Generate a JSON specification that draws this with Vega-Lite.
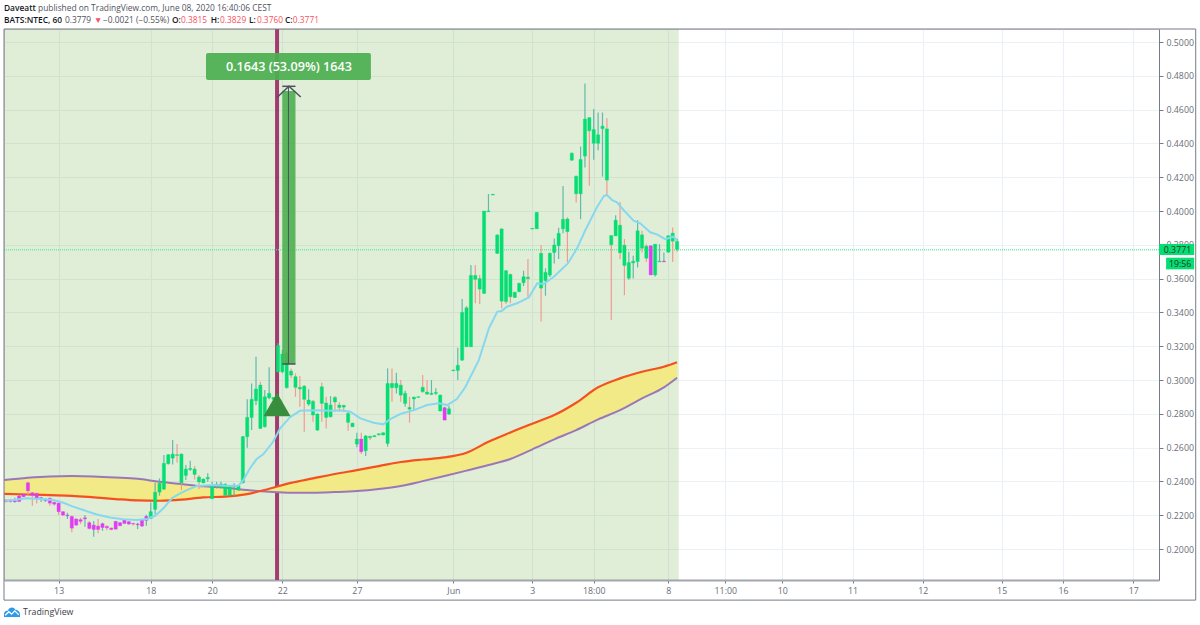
{
  "$schema": "https://vega.github.io/schema/vega-lite/v6.json",
  "width": 1155,
  "height": 551,
  "autosize": "none",
  "padding": {"left": 4, "top": 29, "right": 41, "bottom": 45},
  "background": "white",
  "datasets": {
    "candles": [
      {"bar":0,"top":0.2288,"bot":0.2282,"hi":0.2296,"lo":0.2276,"wick":"down","body":"short"},
      {"bar":1,"top":0.2290,"bot":0.2282,"hi":0.2296,"lo":0.2276,"wick":"down","body":"short"},
      {"bar":2,"top":0.2286,"bot":0.2280,"hi":0.2304,"lo":0.2276,"wick":"up","body":"short"},
      {"bar":3,"top":0.2314,"bot":0.2282,"hi":0.2318,"lo":0.2280,"wick":"up","body":"short"},
      {"bar":4,"top":0.2325,"bot":0.2310,"hi":0.2327,"lo":0.2308,"wick":"up","body":"short"},
      {"bar":5,"top":0.2392,"bot":0.2345,"hi":0.2398,"lo":0.2314,"wick":"down","body":"short"},
      {"bar":6,"top":0.2333,"bot":0.2318,"hi":0.2337,"lo":0.2256,"wick":"down","body":"short"},
      {"bar":7,"top":0.2329,"bot":0.2298,"hi":0.2333,"lo":0.2270,"wick":"down","body":"short"},
      {"bar":8,"top":0.2304,"bot":0.2298,"hi":0.2310,"lo":0.2278,"wick":"up","body":"short"},
      {"bar":9,"top":0.2294,"bot":0.2286,"hi":0.2300,"lo":0.2280,"wick":"up","body":"short"},
      {"bar":10,"top":0.2300,"bot":0.2272,"hi":0.2306,"lo":0.2256,"wick":"down","body":"short"},
      {"bar":11,"top":0.2276,"bot":0.2266,"hi":0.2282,"lo":0.2256,"wick":"down","body":"short"},
      {"bar":12,"top":0.2272,"bot":0.2221,"hi":0.2276,"lo":0.2201,"wick":"down","body":"short"},
      {"bar":13,"top":0.2221,"bot":0.2201,"hi":0.2225,"lo":0.2197,"wick":"down","body":"short"},
      {"bar":14,"top":0.2201,"bot":0.2197,"hi":0.2215,"lo":0.2178,"wick":"up","body":"short"},
      {"bar":15,"top":0.2193,"bot":0.2124,"hi":0.2197,"lo":0.2100,"wick":"down","body":"short"},
      {"bar":16,"top":0.2178,"bot":0.2142,"hi":0.2181,"lo":0.2138,"wick":"up","body":"short"},
      {"bar":17,"top":0.2174,"bot":0.2164,"hi":0.2185,"lo":0.2148,"wick":"down","body":"short"},
      {"bar":18,"top":0.2185,"bot":0.2179,"hi":0.2201,"lo":0.2132,"wick":"up","body":"short"},
      {"bar":19,"top":0.2156,"bot":0.2122,"hi":0.2166,"lo":0.2116,"wick":"down","body":"short"},
      {"bar":20,"top":0.2142,"bot":0.2116,"hi":0.2166,"lo":0.2073,"wick":"up","body":"short"},
      {"bar":21,"top":0.2136,"bot":0.2116,"hi":0.2178,"lo":0.2093,"wick":"down","body":"short"},
      {"bar":22,"top":0.2150,"bot":0.2128,"hi":0.2156,"lo":0.2108,"wick":"up","body":"short"},
      {"bar":23,"top":0.2134,"bot":0.2126,"hi":0.2140,"lo":0.2112,"wick":"down","body":"short"},
      {"bar":24,"top":0.2124,"bot":0.2116,"hi":0.2128,"lo":0.2112,"wick":"down","body":"short"},
      {"bar":25,"top":0.2164,"bot":0.2118,"hi":0.2166,"lo":0.2116,"wick":"up","body":"short"},
      {"bar":26,"top":0.2156,"bot":0.2138,"hi":0.2158,"lo":0.2136,"wick":"up","body":"short"},
      {"bar":27,"top":0.2172,"bot":0.2152,"hi":0.2174,"lo":0.2150,"wick":"up","body":"short"},
      {"bar":28,"top":0.2162,"bot":0.2148,"hi":0.2164,"lo":0.2146,"wick":"up","body":"short"},
      {"bar":29,"top":0.2152,"bot":0.2148,"hi":0.2156,"lo":0.2140,"wick":"down","body":"short"},
      {"bar":30,"top":0.2148,"bot":0.2144,"hi":0.2156,"lo":0.2118,"wick":"up","body":"short"},
      {"bar":31,"top":0.2174,"bot":0.2136,"hi":0.2178,"lo":0.2132,"wick":"up","body":"short"},
      {"bar":32,"top":0.2193,"bot":0.2170,"hi":0.2203,"lo":0.2138,"wick":"up","body":"short"},
      {"bar":33,"top":0.2221,"bot":0.2181,"hi":0.2276,"lo":0.2178,"wick":"up","body":"long"},
      {"bar":34,"top":0.2336,"bot":0.2235,"hi":0.2392,"lo":0.2205,"wick":"up","body":"long"},
      {"bar":35,"top":0.2389,"bot":0.2337,"hi":0.2418,"lo":0.2316,"wick":"up","body":"long"},
      {"bar":36,"top":0.2507,"bot":0.2355,"hi":0.2556,"lo":0.2349,"wick":"up","body":"long"},
      {"bar":37,"top":0.2558,"bot":0.2505,"hi":0.2562,"lo":0.2501,"wick":"up","body":"long"},
      {"bar":38,"top":0.2562,"bot":0.2538,"hi":0.2645,"lo":0.2501,"wick":"up","body":"long"},
      {"bar":39,"top":0.2558,"bot":0.2554,"hi":0.2621,"lo":0.2511,"wick":"down","body":"long"},
      {"bar":40,"top":0.2562,"bot":0.2392,"hi":0.2566,"lo":0.2349,"wick":"down","body":"long"},
      {"bar":41,"top":0.2473,"bot":0.2436,"hi":0.2497,"lo":0.2408,"wick":"up","body":"long"},
      {"bar":42,"top":0.2477,"bot":0.2471,"hi":0.2523,"lo":0.2463,"wick":"up","body":"long"},
      {"bar":43,"top":0.2473,"bot":0.2442,"hi":0.2491,"lo":0.2412,"wick":"down","body":"long"},
      {"bar":44,"top":0.2426,"bot":0.2397,"hi":0.2438,"lo":0.2355,"wick":"down","body":"long"},
      {"bar":45,"top":0.2414,"bot":0.2392,"hi":0.2418,"lo":0.2389,"wick":"up","body":"long"},
      {"bar":46,"top":0.2424,"bot":0.2416,"hi":0.2448,"lo":0.2398,"wick":"up","body":"long"},
      {"bar":47,"top":0.2375,"bot":0.2298,"hi":0.2398,"lo":0.2296,"wick":"up","body":"long"},
      {"bar":48,"top":0.2383,"bot":0.2377,"hi":0.2398,"lo":0.2359,"wick":"up","body":"long"},
      {"bar":49,"top":0.2385,"bot":0.2365,"hi":0.2398,"lo":0.2359,"wick":"up","body":"long"},
      {"bar":50,"top":0.2383,"bot":0.2319,"hi":0.2389,"lo":0.2316,"wick":"up","body":"long"},
      {"bar":51,"top":0.2371,"bot":0.2319,"hi":0.2375,"lo":0.2316,"wick":"up","body":"long"},
      {"bar":52,"top":0.2375,"bot":0.2369,"hi":0.2389,"lo":0.2314,"wick":"up","body":"long"},
      {"bar":53,"top":0.2375,"bot":0.2349,"hi":0.2379,"lo":0.2345,"wick":"up","body":"long"},
      {"bar":54,"top":0.2665,"bot":0.2392,"hi":0.2669,"lo":0.2389,"wick":"up","body":"long"},
      {"bar":55,"top":0.2779,"bot":0.2665,"hi":0.2886,"lo":0.2600,"wick":"up","body":"long"},
      {"bar":56,"top":0.2886,"bot":0.2779,"hi":0.2980,"lo":0.2704,"wick":"up","body":"long"},
      {"bar":57,"top":0.2947,"bot":0.2878,"hi":0.3138,"lo":0.2852,"wick":"up","body":"long"},
      {"bar":58,"top":0.2970,"bot":0.2714,"hi":0.2990,"lo":0.2710,"wick":"down","body":"long"},
      {"bar":59,"top":0.2901,"bot":0.2724,"hi":0.2941,"lo":0.2720,"wick":"up","body":"long"},
      {"bar":60,"top":0.2921,"bot":0.2895,"hi":0.3075,"lo":0.2886,"wick":"up","body":"long"},
      {"bar":61,"top":0.2897,"bot":0.2886,"hi":0.2900,"lo":0.2880,"wick":"down","body":"long"},
      {"bar":62,"top":0.3203,"bot":0.3049,"hi":0.3217,"lo":0.3045,"wick":"up","body":"long"},
      {"bar":63,"top":0.3154,"bot":0.3049,"hi":0.3180,"lo":0.3040,"wick":"up","body":"long"},
      {"bar":64,"top":0.3158,"bot":0.2955,"hi":0.3165,"lo":0.2950,"wick":"up","body":"long"},
      {"bar":65,"top":0.3053,"bot":0.3029,"hi":0.3069,"lo":0.3010,"wick":"down","body":"long"},
      {"bar":66,"top":0.3020,"bot":0.2957,"hi":0.3039,"lo":0.2901,"wick":"down","body":"long"},
      {"bar":67,"top":0.2957,"bot":0.2947,"hi":0.3024,"lo":0.2842,"wick":"down","body":"long"},
      {"bar":68,"top":0.2964,"bot":0.2886,"hi":0.2970,"lo":0.2694,"wick":"down","body":"long"},
      {"bar":69,"top":0.2882,"bot":0.2858,"hi":0.2945,"lo":0.2848,"wick":"up","body":"long"},
      {"bar":70,"top":0.2874,"bot":0.2793,"hi":0.2882,"lo":0.2754,"wick":"down","body":"long"},
      {"bar":71,"top":0.2799,"bot":0.2704,"hi":0.2803,"lo":0.2700,"wick":"up","body":"long"},
      {"bar":72,"top":0.2960,"bot":0.2862,"hi":0.2986,"lo":0.2754,"wick":"down","body":"long"},
      {"bar":73,"top":0.2864,"bot":0.2779,"hi":0.2901,"lo":0.2714,"wick":"down","body":"long"},
      {"bar":74,"top":0.2852,"bot":0.2783,"hi":0.2905,"lo":0.2779,"wick":"up","body":"long"},
      {"bar":75,"top":0.2897,"bot":0.2870,"hi":0.2905,"lo":0.2813,"wick":"down","body":"long"},
      {"bar":76,"top":0.2852,"bot":0.2838,"hi":0.2868,"lo":0.2813,"wick":"down","body":"long"},
      {"bar":77,"top":0.2850,"bot":0.2840,"hi":0.2854,"lo":0.2811,"wick":"down","body":"long"},
      {"bar":78,"top":0.2803,"bot":0.2750,"hi":0.2813,"lo":0.2700,"wick":"down","body":"long"},
      {"bar":79,"top":0.2745,"bot":0.2724,"hi":0.2747,"lo":0.2722,"wick":"up","body":"long"},
      {"bar":80,"top":0.2651,"bot":0.2621,"hi":0.2688,"lo":0.2602,"wick":"up","body":"long"},
      {"bar":81,"top":0.2651,"bot":0.2576,"hi":0.2688,"lo":0.2562,"wick":"down","body":"short"},
      {"bar":82,"top":0.2669,"bot":0.2582,"hi":0.2675,"lo":0.2550,"wick":"up","body":"long"},
      {"bar":83,"top":0.2667,"bot":0.2659,"hi":0.2671,"lo":0.2645,"wick":"down","body":"long"},
      {"bar":84,"top":0.2671,"bot":0.2665,"hi":0.2673,"lo":0.2663,"wick":"up","body":"long"},
      {"bar":85,"top":0.2682,"bot":0.2676,"hi":0.2684,"lo":0.2674,"wick":"up","body":"long"},
      {"bar":86,"top":0.2688,"bot":0.2675,"hi":0.2690,"lo":0.2673,"wick":"up","body":"long"},
      {"bar":87,"top":0.2980,"bot":0.2625,"hi":0.3069,"lo":0.2606,"wick":"up","body":"long"},
      {"bar":88,"top":0.2980,"bot":0.2955,"hi":0.3069,"lo":0.2872,"wick":"down","body":"long"},
      {"bar":89,"top":0.2980,"bot":0.2955,"hi":0.3043,"lo":0.2921,"wick":"up","body":"long"},
      {"bar":90,"top":0.2970,"bot":0.2911,"hi":0.3000,"lo":0.2872,"wick":"down","body":"long"},
      {"bar":91,"top":0.2921,"bot":0.2862,"hi":0.2937,"lo":0.2842,"wick":"up","body":"long"},
      {"bar":92,"top":0.2838,"bot":0.2828,"hi":0.2901,"lo":0.2748,"wick":"down","body":"long"},
      {"bar":93,"top":0.2899,"bot":0.2888,"hi":0.2901,"lo":0.2823,"wick":"up","body":"long"},
      {"bar":94,"top":0.2901,"bot":0.2898,"hi":0.2903,"lo":0.2896,"wick":"up","body":"long"},
      {"bar":95,"top":0.2957,"bot":0.2931,"hi":0.3030,"lo":0.2925,"wick":"down","body":"long"},
      {"bar":96,"top":0.2929,"bot":0.2917,"hi":0.3000,"lo":0.2911,"wick":"down","body":"long"},
      {"bar":97,"top":0.2921,"bot":0.2915,"hi":0.3000,"lo":0.2911,"wick":"up","body":"long"},
      {"bar":98,"top":0.2927,"bot":0.2921,"hi":0.2951,"lo":0.2911,"wick":"up","body":"long"},
      {"bar":99,"top":0.2911,"bot":0.2817,"hi":0.2913,"lo":0.2815,"wick":"up","body":"long"},
      {"bar":100,"top":0.2836,"bot":0.2763,"hi":0.2842,"lo":0.2763,"wick":"up","body":"short"},
      {"bar":101,"top":0.2830,"bot":0.2799,"hi":0.2848,"lo":0.2793,"wick":"up","body":"long"},
      {"bar":102,"top":0.3059,"bot":0.3055,"hi":0.3061,"lo":0.3053,"wick":"up","body":"long"},
      {"bar":103,"top":0.3087,"bot":0.3057,"hi":0.3191,"lo":0.3000,"wick":"up","body":"long"},
      {"bar":104,"top":0.3400,"bot":0.3118,"hi":0.3479,"lo":0.3112,"wick":"up","body":"long"},
      {"bar":105,"top":0.3428,"bot":0.3197,"hi":0.3440,"lo":0.3197,"wick":"down","body":"long"},
      {"bar":106,"top":0.3619,"bot":0.3197,"hi":0.3680,"lo":0.3197,"wick":"up","body":"long"},
      {"bar":107,"top":0.3619,"bot":0.3596,"hi":0.3680,"lo":0.3454,"wick":"down","body":"long"},
      {"bar":108,"top":0.3600,"bot":0.3538,"hi":0.3621,"lo":0.3450,"wick":"down","body":"long"},
      {"bar":109,"top":0.4000,"bot":0.3513,"hi":0.4000,"lo":0.3509,"wick":"up","body":"long"},
      {"bar":110,"top":0.4000,"bot":0.3996,"hi":0.4101,"lo":0.3996,"wick":"up","body":"long"},
      {"bar":111,"top":0.4099,"bot":0.4095,"hi":0.4101,"lo":0.4093,"wick":"up","body":"long"},
      {"bar":112,"top":0.3858,"bot":0.3750,"hi":0.3862,"lo":0.3746,"wick":"up","body":"long"},
      {"bar":113,"top":0.3894,"bot":0.3467,"hi":0.3898,"lo":0.3424,"wick":"down","body":"long"},
      {"bar":114,"top":0.3647,"bot":0.3464,"hi":0.3651,"lo":0.3450,"wick":"down","body":"long"},
      {"bar":115,"top":0.3625,"bot":0.3493,"hi":0.3629,"lo":0.3454,"wick":"down","body":"long"},
      {"bar":116,"top":0.3519,"bot":0.3489,"hi":0.3523,"lo":0.3485,"wick":"up","body":"long"},
      {"bar":117,"top":0.3572,"bot":0.3523,"hi":0.3576,"lo":0.3519,"wick":"up","body":"long"},
      {"bar":118,"top":0.3611,"bot":0.3576,"hi":0.3647,"lo":0.3556,"wick":"up","body":"long"},
      {"bar":119,"top":0.3609,"bot":0.3600,"hi":0.3716,"lo":0.3493,"wick":"down","body":"long"},
      {"bar":120,"top":0.3897,"bot":0.3894,"hi":0.3899,"lo":0.3892,"wick":"up","body":"long"},
      {"bar":121,"top":0.3992,"bot":0.3895,"hi":0.3994,"lo":0.3893,"wick":"up","body":"long"},
      {"bar":122,"top":0.3750,"bot":0.3544,"hi":0.3799,"lo":0.3347,"wick":"down","body":"long"},
      {"bar":123,"top":0.3637,"bot":0.3588,"hi":0.3661,"lo":0.3499,"wick":"up","body":"long"},
      {"bar":124,"top":0.3750,"bot":0.3621,"hi":0.3754,"lo":0.3610,"wick":"up","body":"long"},
      {"bar":125,"top":0.3799,"bot":0.3755,"hi":0.3838,"lo":0.3690,"wick":"up","body":"long"},
      {"bar":126,"top":0.3868,"bot":0.3795,"hi":0.3901,"lo":0.3716,"wick":"up","body":"long"},
      {"bar":127,"top":0.3951,"bot":0.3895,"hi":0.4148,"lo":0.3868,"wick":"up","body":"long"},
      {"bar":128,"top":0.3953,"bot":0.3878,"hi":0.3963,"lo":0.3696,"wick":"down","body":"long"},
      {"bar":129,"top":0.4342,"bot":0.4301,"hi":0.4346,"lo":0.4297,"wick":"up","body":"long"},
      {"bar":130,"top":0.4206,"bot":0.4102,"hi":0.4210,"lo":0.4050,"wick":"down","body":"long"},
      {"bar":131,"top":0.4305,"bot":0.4102,"hi":0.4382,"lo":0.3952,"wick":"up","body":"long"},
      {"bar":132,"top":0.4544,"bot":0.4325,"hi":0.4755,"lo":0.4258,"wick":"up","body":"long"},
      {"bar":133,"top":0.4553,"bot":0.4475,"hi":0.4553,"lo":0.4149,"wick":"down","body":"long"},
      {"bar":134,"top":0.4482,"bot":0.4401,"hi":0.4603,"lo":0.4303,"wick":"up","body":"long"},
      {"bar":135,"top":0.4451,"bot":0.4401,"hi":0.4583,"lo":0.4360,"wick":"up","body":"long"},
      {"bar":136,"top":0.4502,"bot":0.4488,"hi":0.4583,"lo":0.4204,"wick":"up","body":"long"},
      {"bar":137,"top":0.4486,"bot":0.4183,"hi":0.4549,"lo":0.4100,"wick":"down","body":"long"},
      {"bar":138,"top":0.3855,"bot":0.3800,"hi":0.3855,"lo":0.3356,"wick":"down","body":"long"},
      {"bar":139,"top":0.3946,"bot":0.3853,"hi":0.3975,"lo":0.3853,"wick":"up","body":"long"},
      {"bar":140,"top":0.3916,"bot":0.3753,"hi":0.4054,"lo":0.3715,"wick":"down","body":"long"},
      {"bar":141,"top":0.3798,"bot":0.3678,"hi":0.3834,"lo":0.3502,"wick":"down","body":"long"},
      {"bar":142,"top":0.3695,"bot":0.3603,"hi":0.3759,"lo":0.3593,"wick":"up","body":"long"},
      {"bar":143,"top":0.3703,"bot":0.3693,"hi":0.3735,"lo":0.3601,"wick":"up","body":"long"},
      {"bar":144,"top":0.3883,"bot":0.3701,"hi":0.3946,"lo":0.3666,"wick":"up","body":"long"},
      {"bar":145,"top":0.3859,"bot":0.3780,"hi":0.3883,"lo":0.3755,"wick":"down","body":"long"},
      {"bar":146,"top":0.3792,"bot":0.3721,"hi":0.3804,"lo":0.3699,"wick":"down","body":"long"},
      {"bar":147,"top":0.3794,"bot":0.3622,"hi":0.3796,"lo":0.3622,"wick":"up","body":"short"},
      {"bar":148,"top":0.3804,"bot":0.3622,"hi":0.3804,"lo":0.3612,"wick":"up","body":"long"},
      {"bar":149,"top":0.3703,"bot":0.3699,"hi":0.3804,"lo":0.3699,"wick":"up","body":"long"},
      {"bar":150,"top":0.3703,"bot":0.3699,"hi":0.3755,"lo":0.3699,"wick":"up","body":"short"},
      {"bar":151,"top":0.3853,"bot":0.3757,"hi":0.3857,"lo":0.3753,"wick":"up","body":"long"},
      {"bar":152,"top":0.3869,"bot":0.3822,"hi":0.3902,"lo":0.3699,"wick":"down","body":"long"},
      {"bar":153,"top":0.3820,"bot":0.3774,"hi":0.3838,"lo":0.3760,"wick":"up","body":"long"}
    ],
    "ema": [
      {"bar":-0.2,"price":0.2286},{"bar":1.7,"price":0.2290},{"bar":4.7,"price":0.2300},{"bar":7.8,"price":0.2296},
      {"bar":10.8,"price":0.2290},{"bar":13.1,"price":0.2274},{"bar":15,"price":0.2254},{"bar":17.6,"price":0.2231},
      {"bar":20.7,"price":0.2205},{"bar":23.7,"price":0.2187},{"bar":26.7,"price":0.2176},{"bar":29.8,"price":0.2172},
      {"bar":32.1,"price":0.2178},{"bar":34,"price":0.2197},{"bar":35.9,"price":0.2241},{"bar":37.8,"price":0.2300},
      {"bar":39.3,"price":0.2323},{"bar":41.2,"price":0.2349},{"bar":43.5,"price":0.2373},{"bar":47.3,"price":0.2379},
      {"bar":50.3,"price":0.2375},{"bar":53,"price":0.2375},{"bar":54.1,"price":0.2408},{"bar":55.6,"price":0.2477},
      {"bar":57.1,"price":0.2531},{"bar":58.7,"price":0.2562},{"bar":60.9,"price":0.2635},{"bar":62.5,"price":0.2714},
      {"bar":64.7,"price":0.2779},{"bar":67,"price":0.2818},{"bar":70.1,"price":0.2822},{"bar":74.6,"price":0.2818},
      {"bar":76.2,"price":0.2822},{"bar":78.5,"price":0.2813},{"bar":80.8,"price":0.2773},{"bar":83.8,"price":0.2747},
      {"bar":86,"price":0.2738},{"bar":87.6,"price":0.2769},{"bar":89.9,"price":0.2799},{"bar":93,"price":0.2822},
      {"bar":96,"price":0.2852},{"bar":98.7,"price":0.2862},{"bar":100.6,"price":0.2852},{"bar":102.8,"price":0.2888},
      {"bar":104.7,"price":0.2957},{"bar":107.8,"price":0.3118},{"bar":110.1,"price":0.3306},{"bar":112,"price":0.3404},
      {"bar":113.1,"price":0.3410},{"bar":114.2,"price":0.3434},{"bar":116.5,"price":0.3454},{"bar":119.2,"price":0.3489},
      {"bar":121.1,"price":0.3572},{"bar":122.6,"price":0.3568},{"bar":124.9,"price":0.3611},{"bar":128.1,"price":0.3690},
      {"bar":130.2,"price":0.3779},{"bar":132.1,"price":0.3888},{"bar":134.8,"price":0.4026},{"bar":136.3,"price":0.4089},
      {"bar":137,"price":0.4095},{"bar":138.2,"price":0.4065},{"bar":139.3,"price":0.4051},{"bar":140.8,"price":0.4006},
      {"bar":143.1,"price":0.3943},{"bar":144.6,"price":0.3927},{"bar":146.9,"price":0.3874},{"bar":148.4,"price":0.3862},
      {"bar":150.3,"price":0.3834},{"bar":152.2,"price":0.3848},{"bar":153,"price":0.3824}
    ],
    "ribbon": [
      {"bar":-0.4,"slow":0.2408,"fast":0.2327},{"bar":5,"slow":0.2422,"fast":0.2323},{"bar":10,"slow":0.2430,"fast":0.2319},
      {"bar":15,"slow":0.2432,"fast":0.2315},{"bar":20,"slow":0.2430,"fast":0.2306},{"bar":25,"slow":0.2424,"fast":0.2296},
      {"bar":30,"slow":0.2416,"fast":0.2288},{"bar":35,"slow":0.2398,"fast":0.2286},{"bar":40,"slow":0.2385,"fast":0.2292},
      {"bar":45,"slow":0.2371,"fast":0.2306},{"bar":50,"slow":0.2363,"fast":0.2310},{"bar":55,"slow":0.2349,"fast":0.2325},
      {"bar":60,"slow":0.2339,"fast":0.2357},{"bar":65,"slow":0.2333,"fast":0.2392},{"bar":70,"slow":0.2333,"fast":0.2418},
      {"bar":75,"slow":0.2337,"fast":0.2444},{"bar":80,"slow":0.2343,"fast":0.2467},{"bar":85,"slow":0.2355,"fast":0.2491},
      {"bar":90,"slow":0.2373,"fast":0.2515},{"bar":95,"slow":0.2402,"fast":0.2530},{"bar":100,"slow":0.2432,"fast":0.2542},
      {"bar":105,"slow":0.2464,"fast":0.2570},{"bar":110,"slow":0.2497,"fast":0.2635},{"bar":115,"slow":0.2533,"fast":0.2690},
      {"bar":120,"slow":0.2590,"fast":0.2742},{"bar":125,"slow":0.2649,"fast":0.2793},{"bar":130,"slow":0.2704,"fast":0.2866},
      {"bar":135,"slow":0.2767,"fast":0.2957},{"bar":140,"slow":0.2822,"fast":0.3010},{"bar":145,"slow":0.2891,"fast":0.3049},
      {"bar":150,"slow":0.2957,"fast":0.3079},{"bar":153,"slow":0.3014,"fast":0.3105}
    ],
    "arrowHead": [
      {"bar":61.8,"price":0.4672},{"bar":64.5,"price":0.4738},{"bar":67.2,"price":0.4675}
    ],
    "headerBold": [
      {"bar":-0.46,"price":0.5201,"text":"Daveatt"},
      {"bar":-0.46,"price":0.5130,"text":"BATS:NTEC, 60"},
      {"bar":37.85,"price":0.5130,"text":"O:"},
      {"bar":46.7,"price":0.5130,"text":"H:"},
      {"bar":55.4,"price":0.5130,"text":"L:"},
      {"bar":63.6,"price":0.5130,"text":"C:"}
    ],
    "headerPlain": [
      {"bar":7.3,"price":0.5201,"text":"published on TradingView.com, June 08, 2020 16:40:06 CEST","tone":"ink"},
      {"bar":13.45,"price":0.5130,"text":"0.3779","tone":"ink"},
      {"bar":20.06,"price":0.5130,"text":"▼","tone":"loss"},
      {"bar":22.1,"price":0.5130,"text":"−0.0021 (−0.55%)","tone":"ink"},
      {"bar":39.9,"price":0.5130,"text":"0.3815","tone":"loss"},
      {"bar":48.8,"price":0.5130,"text":"0.3829","tone":"loss"},
      {"bar":57.2,"price":0.5130,"text":"0.3760","tone":"loss"},
      {"bar":65.4,"price":0.5130,"text":"0.3771","tone":"loss"}
    ]
  },
  "layer": [
    {
      "data": {"values": [{"from": -0.456, "to": 153.4}]},
      "mark": {"type": "rect", "fill": "#62a83c", "opacity": 0.2},
      "encoding": {
        "x": {
          "field": "from", "type": "quantitative",
          "scale": {"domain": [-0.456, 262.88], "nice": false, "zero": false, "padding": 0},
          "axis": {
            "orient": "bottom", "title": null,
            "values": [12, 33, 47, 63, 80, 102, 120, 134, 151, 164, 177, 193, 209, 227, 241, 257],
            "labelExpr": "{'12':'13','33':'18','47':'20','63':'22','80':'27','102':'Jun','120':'3','134':'18:00','151':'8','164':'11:00','177':'10','193':'11','209':'12','227':'15','241':'16','257':'17'}[datum.value]",
            "labelColor": "#6a6d78", "labelFont": "Open Sans", "labelFontSize": 8.8, "labelPadding": 3, "labelFlush": false, "labelOverlap": false,
            "tickColor": "#787b86", "tickSize": 3,
            "domainColor": "#a3a6af", "domainWidth": 2,
            "grid": true, "gridColor": "#edf1f7", "gridWidth": 1.2
          }
        },
        "x2": {"field": "to"}
      }
    },
    {
      "data": {"values": [{"bar": 61.8}]},
      "mark": {"type": "rule", "color": "#a03c70", "strokeWidth": 4},
      "encoding": {"x": {"field": "bar", "type": "quantitative"}}
    },
    {
      "data": {"name": "ribbon"},
      "mark": {"type": "area", "fill": "#f2ea86", "interpolate": "monotone"},
      "encoding": {
        "x": {"field": "bar", "type": "quantitative"},
        "y": {
          "field": "slow", "type": "quantitative",
          "scale": {"domain": [0.1817, 0.5077], "nice": false, "zero": false},
          "axis": {
            "orient": "right", "title": null,
            "values": [0.20, 0.22, 0.24, 0.26, 0.28, 0.30, 0.32, 0.34, 0.36, 0.38, 0.40, 0.42, 0.44, 0.46, 0.48, 0.50],
            "tickCount": 20,
            "format": ".4f", "labelOverlap": false,
            "labelColor": "#6a6d78", "labelFont": "Open Sans", "labelFontSize": 8.8, "labelPadding": 3,
            "tickColor": "#787b86", "tickSize": 4,
            "domainColor": "#787b86", "domainWidth": 1,
            "grid": true, "gridColor": "#edf1f7", "gridWidth": 1.2
          }
        },
        "y2": {"field": "fast"}
      }
    },
    {
      "data": {"name": "ribbon"},
      "mark": {"type": "line", "color": "#9a78b8", "strokeWidth": 2, "interpolate": "monotone"},
      "encoding": {"x": {"field": "bar", "type": "quantitative"}, "y": {"field": "slow", "type": "quantitative"}}
    },
    {
      "data": {"name": "ribbon"},
      "mark": {"type": "line", "color": "#f4511e", "strokeWidth": 2.2, "interpolate": "monotone"},
      "encoding": {"x": {"field": "bar", "type": "quantitative"}, "y": {"field": "fast", "type": "quantitative"}}
    },
    {
      "data": {"values": [{"price": 0.3771}]},
      "mark": {"type": "rule", "color": "#4ee89a", "strokeWidth": 1.4, "strokeDash": [1, 1], "opacity": 0.8},
      "encoding": {"y": {"field": "price", "type": "quantitative"}}
    },
    {
      "data": {"name": "candles"},
      "mark": {"type": "rule", "strokeWidth": 1.2, "opacity": 0.9},
      "encoding": {
        "x": {"field": "bar", "type": "quantitative"},
        "y": {"field": "hi", "type": "quantitative"},
        "y2": {"field": "lo"},
        "color": {
          "field": "wick", "type": "nominal", "legend": null,
          "scale": {
            "domain": ["up", "down", "long", "short", "ink", "loss"],
            "range": ["#55b3a6", "#ef9488", "#05de72", "#e03cf2", "#50535e", "#f7525f"]
          }
        }
      }
    },
    {
      "data": {"name": "candles"},
      "mark": {"type": "bar", "width": 3.2, "strokeWidth": 0.4},
      "encoding": {
        "x": {"field": "bar", "type": "quantitative"},
        "y": {"field": "top", "type": "quantitative"},
        "y2": {"field": "bot"},
        "color": {"field": "body", "type": "nominal", "legend": null},
        "stroke": {"field": "body", "type": "nominal", "legend": null, "scale": {"domain": ["long", "short"], "range": ["#05de72", "#e03cf2"]}}
      }
    },
    {
      "data": {"name": "ema"},
      "mark": {"type": "line", "color": "#87d8ee", "strokeWidth": 2},
      "encoding": {"x": {"field": "bar", "type": "quantitative"}, "y": {"field": "price", "type": "quantitative"}}
    },
    {
      "data": {"values": [{"bar": 61.8, "price": 0.2855}]},
      "mark": {"type": "point", "shape": "triangle-up", "filled": true, "size": 729, "color": "#388e3c", "opacity": 1},
      "encoding": {"x": {"field": "bar", "type": "quantitative"}, "y": {"field": "price", "type": "quantitative"}}
    },
    {
      "data": {"values": [{"from": 63, "to": 66, "low": 0.3095, "high": 0.4710}]},
      "mark": {"type": "rect", "fill": "#4caf50", "opacity": 0.9},
      "encoding": {
        "x": {"field": "from", "type": "quantitative"}, "x2": {"field": "to"},
        "y": {"field": "low", "type": "quantitative"}, "y2": {"field": "high"}
      }
    },
    {
      "data": {"values": [{"bar": 64.4, "low": 0.3095, "high": 0.4738}]},
      "mark": {"type": "rule", "color": "#4c525e", "strokeWidth": 1},
      "encoding": {
        "x": {"field": "bar", "type": "quantitative"},
        "y": {"field": "low", "type": "quantitative"}, "y2": {"field": "high"}
      }
    },
    {
      "data": {"values": [{"from": 63, "to": 66, "price": 0.3095}, {"from": 63, "to": 66, "price": 0.4738}]},
      "mark": {"type": "rule", "color": "#4c525e", "strokeWidth": 1.5},
      "encoding": {
        "x": {"field": "from", "type": "quantitative"}, "x2": {"field": "to"},
        "y": {"field": "price", "type": "quantitative"}
      }
    },
    {
      "data": {"name": "arrowHead"},
      "mark": {"type": "line", "color": "#4c525e", "strokeWidth": 1.5},
      "encoding": {"x": {"field": "bar", "type": "quantitative"}, "y": {"field": "price", "type": "quantitative"}}
    },
    {
      "data": {"values": [{"from": 45.6, "to": 83.2, "low": 0.4775, "high": 0.4935}]},
      "mark": {"type": "rect", "fill": "#4caf50", "opacity": 0.93, "cornerRadius": 2},
      "encoding": {
        "x": {"field": "from", "type": "quantitative"}, "x2": {"field": "to"},
        "y": {"field": "low", "type": "quantitative"}, "y2": {"field": "high"}
      }
    },
    {
      "data": {"values": [{"bar": 64.5, "price": 0.4855, "text": "0.1643 (53.09%) 1643"}]},
      "mark": {"type": "text", "color": "white", "font": "Open Sans", "fontSize": 12.6, "fontWeight": 600, "align": "center", "baseline": "middle"},
      "encoding": {
        "x": {"field": "bar", "type": "quantitative"}, "y": {"field": "price", "type": "quantitative"},
        "text": {"field": "text"}
      }
    },
    {
      "data": {"values": [{"from": -0.456, "to": 271.25, "low": 0.1698, "high": 0.5077}]},
      "mark": {"type": "rect", "fillOpacity": 0, "stroke": "#787b86", "strokeWidth": 1, "clip": false},
      "encoding": {
        "x": {"field": "from", "type": "quantitative"}, "x2": {"field": "to"},
        "y": {"field": "low", "type": "quantitative"}, "y2": {"field": "high"}
      }
    },
    {
      "data": {"values": [{"from": 262.9, "to": 270.9, "low": 0.3740, "high": 0.3805}, {"from": 264.5, "to": 270.9, "low": 0.3655, "high": 0.3724}]},
      "mark": {"type": "rect", "fill": "#05de72", "clip": false},
      "encoding": {
        "x": {"field": "from", "type": "quantitative"}, "x2": {"field": "to"},
        "y": {"field": "low", "type": "quantitative"}, "y2": {"field": "high"}
      }
    },
    {
      "data": {"values": [{"bar": 267.1, "price": 0.3771, "text": "0.3771"}, {"bar": 267.7, "price": 0.3689, "text": "19:56"}]},
      "mark": {"type": "text", "color": "#24362c", "font": "Open Sans", "fontSize": 8.8, "align": "center", "baseline": "middle", "clip": false},
      "encoding": {
        "x": {"field": "bar", "type": "quantitative"}, "y": {"field": "price", "type": "quantitative"},
        "text": {"field": "text"}
      }
    },
    {
      "data": {"name": "headerBold"},
      "mark": {"type": "text", "color": "#131722", "font": "Open Sans", "fontSize": 8.4, "fontWeight": 600, "align": "left", "baseline": "middle", "clip": false},
      "encoding": {
        "x": {"field": "bar", "type": "quantitative"}, "y": {"field": "price", "type": "quantitative"},
        "text": {"field": "text"}
      }
    },
    {
      "data": {"name": "headerPlain"},
      "mark": {"type": "text", "font": "Open Sans", "fontSize": 8.4, "align": "left", "baseline": "middle", "clip": false},
      "encoding": {
        "x": {"field": "bar", "type": "quantitative"}, "y": {"field": "price", "type": "quantitative"},
        "text": {"field": "text"},
        "color": {"field": "tone", "type": "nominal", "legend": null}
      }
    },
    {
      "data": {"values": [{"bar": 1.37, "price": 0.1627}]},
      "mark": {"type": "point", "filled": true, "size": 256, "opacity": 1, "color": "#2e9bea", "clip": false,
        "shape": "M-1,.6 L-1,.2 C-1,-.1 -.7,-.2 -.5,-.2 C-.4,-.7 .3,-.7 .4,-.3 C.8,-.3 1,0 1,.3 L1,.6 Z"},
      "encoding": {"x": {"field": "bar", "type": "quantitative"}, "y": {"field": "price", "type": "quantitative"}}
    },
    {
      "data": {"values": [{"bar": 1.37, "price": 0.1627}]},
      "mark": {"type": "point", "filled": false, "size": 256, "opacity": 1, "stroke": "white", "strokeWidth": 1.3, "clip": false,
        "shape": "M-.85,.4 L-.4,-.05 L-.05,.25 L.35,-.15 L.85,.35"},
      "encoding": {"x": {"field": "bar", "type": "quantitative"}, "y": {"field": "price", "type": "quantitative"}}
    },
    {
      "data": {"values": [{"bar": 3.9, "price": 0.1627, "text": "TradingView"}]},
      "mark": {"type": "text", "color": "#3c4048", "font": "Open Sans", "fontSize": 8.8, "align": "left", "baseline": "middle", "clip": false},
      "encoding": {
        "x": {"field": "bar", "type": "quantitative"}, "y": {"field": "price", "type": "quantitative"},
        "text": {"field": "text"}
      }
    }
  ]
}
